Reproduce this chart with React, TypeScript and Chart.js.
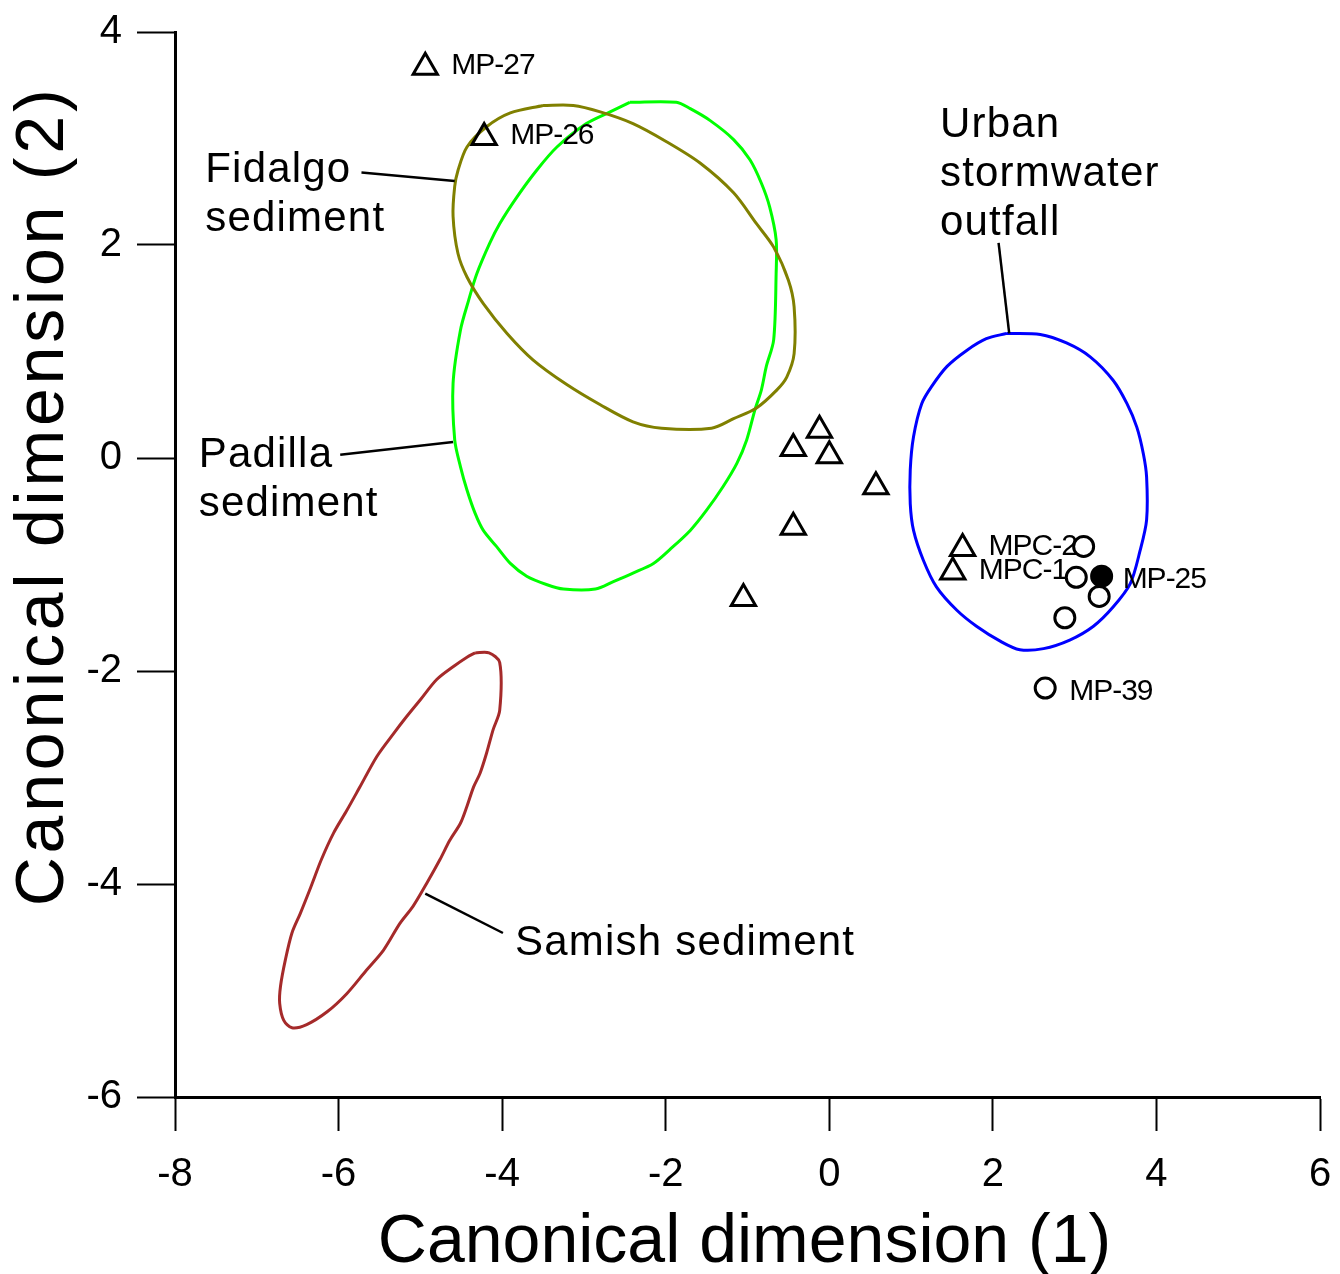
import React, { useEffect, useRef } from "react";
import { Chart, registerables } from "chart.js";

Chart.register(...registerables);

const FONT = '"Liberation Sans", Arial, Helvetica, sans-serif';

// ---- Data ----
const xTicksRange = [-8, 6];
const yTicksRange = [-6, 4];
const xTitle = "Canonical dimension (1)";
const yTitle = "Canonical dimension (2)";

const triangleX = [-4.94, -4.22, -0.12, -0.44, 0.0, 0.57, -0.44, -1.05, 1.63, 1.51];
const triangleY = [3.67, 3.01, 0.26, 0.09, 0.02, -0.27, -0.65, -1.32, -0.85, -1.07];
const triangleLabels = ["MP-27", "MP-26", "", "", "", "", "", "", "MPC-2", "MPC-1"];

const openCircleX = [3.11, 3.02, 3.3, 2.88, 2.64];
const openCircleY = [-0.83, -1.12, -1.3, -1.5, -2.16];
const openCircleLabels = ["", "", "", "", "MP-39"];

const filledCircleX = [3.33];
const filledCircleY = [-1.11];
const filledCircleLabels = ["MP-25"];

const fidalgoContour: [number, number][] = [
  [-3.5, 3.31], [-3.13, 3.31], [-2.8, 3.25], [-2.4, 3.14], [-1.99, 2.97], [-1.58, 2.77],
  [-1.17, 2.49], [-0.89, 2.2], [-0.68, 1.98], [-0.5, 1.67], [-0.43, 1.42], [-0.43, 0.98],
  [-0.52, 0.76], [-0.64, 0.64], [-0.89, 0.47], [-1.17, 0.37], [-1.44, 0.28], [-2.05, 0.28],
  [-2.4, 0.34], [-2.8, 0.5], [-3.21, 0.69], [-3.62, 0.92], [-3.94, 1.17], [-4.23, 1.45],
  [-4.43, 1.7], [-4.54, 1.92], [-4.6, 2.27], [-4.58, 2.55], [-4.54, 2.7], [-4.43, 2.92],
  [-4.19, 3.11], [-3.9, 3.24],
];

const padillaContour: [number, number][] = [
  [-2.44, 3.34], [-1.87, 3.34], [-1.7, 3.28], [-1.46, 3.17], [-1.17, 2.99], [-0.97, 2.8],
  [-0.83, 2.58], [-0.73, 2.36], [-0.65, 2.05], [-0.65, 1.73], [-0.68, 1.11], [-0.77, 0.86],
  [-0.83, 0.64], [-0.91, 0.45], [-1.01, 0.17], [-1.13, -0.05], [-1.3, -0.27], [-1.5, -0.49],
  [-1.7, -0.68], [-1.95, -0.86], [-2.15, -0.99], [-2.4, -1.08], [-2.64, -1.16], [-2.86, -1.23],
  [-3.25, -1.23], [-3.45, -1.19], [-3.7, -1.11], [-3.9, -0.99], [-4.07, -0.83], [-4.23, -0.68],
  [-4.33, -0.52], [-4.43, -0.3], [-4.51, -0.08], [-4.58, 0.17], [-4.6, 0.7], [-4.51, 1.2],
  [-4.41, 1.48], [-4.31, 1.73], [-4.15, 2.02], [-4.03, 2.2], [-3.82, 2.45], [-3.58, 2.7],
  [-3.33, 2.92], [-2.97, 3.14], [-2.68, 3.25],
];

const urbanContour: [number, number][] = [
  [2.17, 1.17], [2.58, 1.16], [2.9, 1.08], [3.19, 0.95], [3.47, 0.73], [3.64, 0.51],
  [3.76, 0.29], [3.84, 0.04], [3.88, -0.18], [3.88, -0.58], [3.8, -0.87], [3.68, -1.18],
  [3.47, -1.4], [3.23, -1.58], [2.94, -1.71], [2.62, -1.79], [2.33, -1.8], [2.09, -1.72],
  [1.8, -1.58], [1.56, -1.43], [1.31, -1.21], [1.15, -0.96], [1.03, -0.68], [0.99, -0.43],
  [0.99, -0.11], [1.03, 0.2], [1.13, 0.51], [1.25, 0.67], [1.44, 0.86], [1.68, 1.01],
  [1.92, 1.12],
];

const samishContour: [number, number][] = [
  [-4.33, -1.83], [-4.16, -1.83], [-4.03, -1.92], [-4.03, -2.37], [-4.11, -2.55], [-4.19, -2.77],
  [-4.27, -2.96], [-4.35, -3.09], [-4.43, -3.27], [-4.51, -3.43], [-4.64, -3.59], [-4.76, -3.77],
  [-4.92, -3.99], [-5.09, -4.21], [-5.25, -4.37], [-5.45, -4.62], [-5.66, -4.81], [-5.9, -5.03],
  [-6.14, -5.2], [-6.39, -5.32], [-6.57, -5.35], [-6.67, -5.28], [-6.72, -5.12], [-6.71, -4.96],
  [-6.65, -4.71], [-6.57, -4.46], [-6.47, -4.28], [-6.34, -4.03], [-6.21, -3.77], [-6.06, -3.52],
  [-5.9, -3.31], [-5.74, -3.09], [-5.53, -2.8], [-5.33, -2.59], [-5.17, -2.43], [-5.0, -2.27],
  [-4.8, -2.08], [-4.6, -1.96], [-4.43, -1.87],
];

const fidalgoLeader: [number, number][] = [[-5.72, 2.68], [-4.58, 2.6]];
const padillaLeader: [number, number][] = [[-5.98, 0.03], [-4.6, 0.15]];
const urbanLeader: [number, number][] = [[2.07, 2.02], [2.2, 1.17]];
const samishLeader: [number, number][] = [[-4.94, -4.09], [-3.99, -4.46]];

const regionNames = [
  ["Fidalgo", "sediment"],
  ["Padilla", "sediment"],
  ["Urban", "stormwater", "outfall"],
  ["Samish sediment"],
];
const regionLabelX = [-7.63, -7.71, 1.353, -3.842];
const regionLabelY = [2.594, -0.082, 3.017, -4.667];

// ---- helpers ----
const toPts = (xs: number[], ys: number[]) => xs.map((x, i) => ({ x, y: ys[i] }));
const closed = (c: [number, number][]) => [...c, c[0]].map(([x, y]) => ({ x, y }));
const seg = (c: [number, number][]) => c.map(([x, y]) => ({ x, y }));

const contourDs = (label: string, c: [number, number][], color: string) => ({
  label,
  data: closed(c),
  showLine: true,
  borderColor: color,
  borderWidth: 3,
  pointRadius: 0,
  pointHoverRadius: 0,
  tension: 0.3,
  fill: false,
});
const leaderDs = (label: string, c: [number, number][]) => ({
  label,
  data: seg(c),
  showLine: true,
  borderColor: "#000",
  borderWidth: 2.5,
  pointRadius: 0,
  pointHoverRadius: 0,
  fill: false,
});

const labelsPlugin = {
  id: "textLabels",
  afterDatasetsDraw(chart: any) {
    const { ctx, chartArea } = chart;
    const xs = chart.scales.x;
    const ys = chart.scales.y;
    ctx.save();
    ctx.fillStyle = "#000";

    // point labels
    ctx.font = `30px ${FONT}`;
    ctx.letterSpacing = "-1px";
    ctx.textAlign = "left";
    ctx.textBaseline = "middle";
    const drawPtLabels = (X: number[], Y: number[], L: string[], dx: number, dy: number) => {
      L.forEach((t, i) => {
        if (!t) return;
        ctx.fillText(t, xs.getPixelForValue(X[i]) + dx, ys.getPixelForValue(Y[i]) + dy);
      });
    };
    drawPtLabels(triangleX, triangleY, triangleLabels, 26, -1.5);
    drawPtLabels(openCircleX, openCircleY, openCircleLabels, 24, 3.5);
    drawPtLabels(filledCircleX, filledCircleY, filledCircleLabels, 21, 3.5);

    // region labels
    ctx.font = `42px ${FONT}`;
    ctx.letterSpacing = "1.2px";
    ctx.textBaseline = "alphabetic";
    regionNames.forEach((lines, i) => {
      const px = xs.getPixelForValue(regionLabelX[i]);
      const py = ys.getPixelForValue(regionLabelY[i]);
      lines.forEach((t, j) => ctx.fillText(t, px, py + j * 49));
    });

    // axis titles
    ctx.font = `68px ${FONT}`;
    ctx.letterSpacing = "0px";
    ctx.textAlign = "center";
    ctx.fillText(xTitle, (chartArea.left + chartArea.right) / 2 - 3, chartArea.bottom + 165);
    ctx.save();
    ctx.translate(chartArea.left - 112, chartArea.top + 464);
    ctx.rotate(-Math.PI / 2);
    ctx.letterSpacing = "3.8px";
    ctx.fillText(yTitle, 0, 0);
    ctx.restore();

    ctx.restore();
  },
};

export default function App() {
  const ref = useRef<HTMLCanvasElement | null>(null);
  useEffect(() => {
    document.body.style.margin = "0";
    const canvas = ref.current;
    if (!canvas) return;
    const chart = new Chart(canvas, {
      type: "scatter",
      data: {
        datasets: [
          {
            label: "filled",
            data: toPts(filledCircleX, filledCircleY),
            pointStyle: "circle",
            pointRadius: 10,
            pointHoverRadius: 10,
            pointBorderWidth: 3,
            pointBorderColor: "#000",
            pointBackgroundColor: "#000",
          },
          {
            label: "circles",
            data: toPts(openCircleX, openCircleY),
            pointStyle: "circle",
            pointRadius: 10,
            pointHoverRadius: 10,
            pointBorderWidth: 3,
            pointBorderColor: "#000",
            pointBackgroundColor: "rgba(0,0,0,0)",
          },
          {
            label: "triangles",
            data: toPts(triangleX, triangleY),
            pointStyle: "triangle",
            pointRadius: 14,
            pointHoverRadius: 14,
            pointBorderWidth: 3,
            pointBorderColor: "#000",
            pointBackgroundColor: "rgba(0,0,0,0)",
          },
          leaderDs("fidalgoLeader", fidalgoLeader),
          leaderDs("padillaLeader", padillaLeader),
          leaderDs("urbanLeader", urbanLeader),
          leaderDs("samishLeader", samishLeader),
          contourDs("Fidalgo", fidalgoContour, "#808000"),
          contourDs("Padilla", padillaContour, "#00ff00"),
          contourDs("Urban", urbanContour, "#0000ff"),
          contourDs("Samish", samishContour, "#a52a2a"),
        ] as any,
      },
      options: {
        animation: false,
        responsive: false,
        maintainAspectRatio: false,
        events: [],
        layout: { padding: { top: 32, right: 20, left: 0, bottom: 0 } },
        plugins: { legend: { display: false }, tooltip: { enabled: false }, title: { display: false } },
        elements: { line: { borderJoinStyle: "round" } },
        scales: {
          x: {
            type: "linear",
            min: xTicksRange[0],
            max: xTicksRange[1],
            ticks: { stepSize: 2, color: "#000", font: { size: 40, family: FONT, lineHeight: 2.2 }, padding: 0 },
            grid: { display: true, drawOnChartArea: false, drawTicks: true, tickLength: 34, tickWidth: 2, tickColor: "#000" },
            border: { display: true, color: "#000", width: 3 },
            afterFit: (s: any) => { s.height = 177; },
          },
          y: {
            type: "linear",
            min: yTicksRange[0],
            max: yTicksRange[1],
            ticks: { stepSize: 2, color: "#000", font: { size: 40, family: FONT, lineHeight: 0.8 }, padding: 15 },
            grid: { display: true, drawOnChartArea: false, drawTicks: true, tickLength: 38, tickWidth: 2, tickColor: "#000" },
            border: { display: true, color: "#000", width: 3 },
            afterFit: (s: any) => { s.width = 175; },
          },
        },
      } as any,
      plugins: [labelsPlugin],
    });
    return () => chart.destroy();
  }, []);
  return (
    <div style={{ position: "absolute", left: 0, top: 0, width: 1340, height: 1274 }}>
      <canvas ref={ref} width={1340} height={1274} style={{ display: "block" }} />
    </div>
  );
}
